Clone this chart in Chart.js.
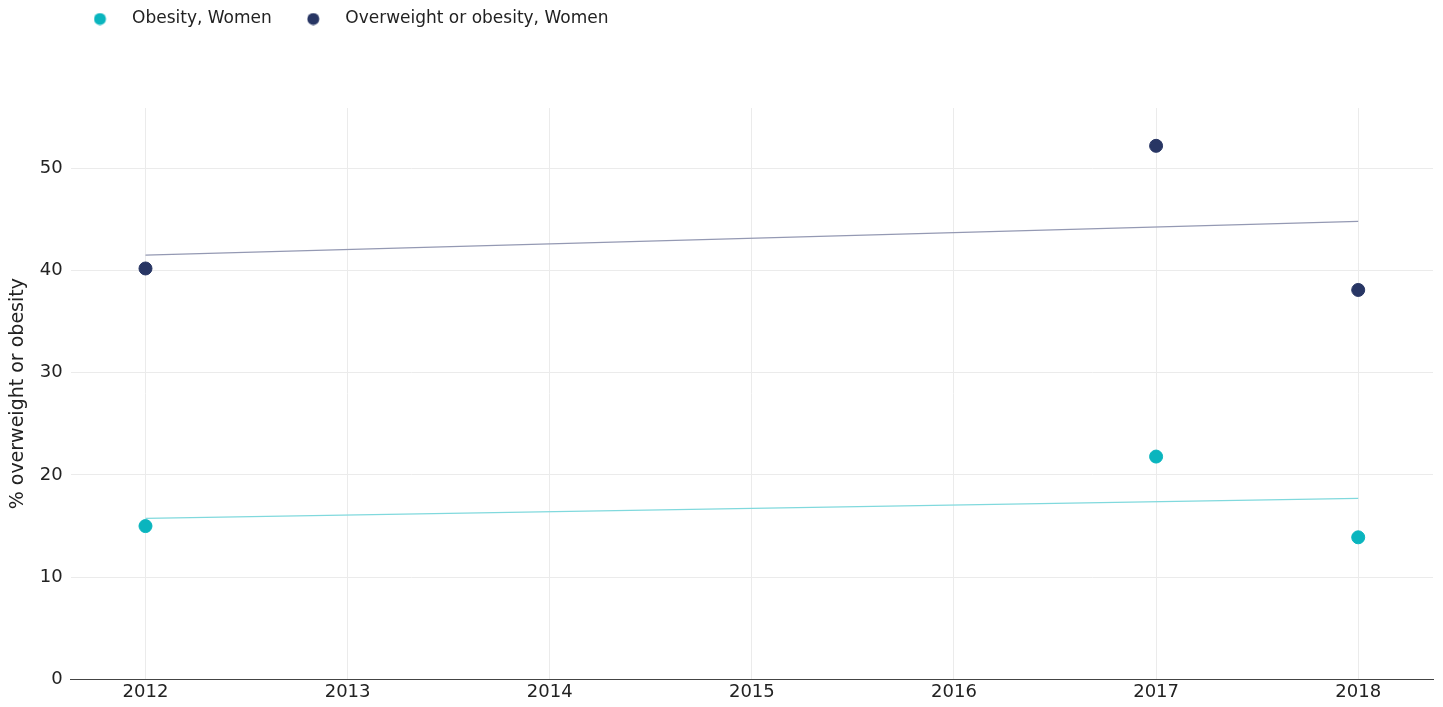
<!DOCTYPE html>
<html>
<head>
<meta charset="utf-8">
<script src="https://cdn.jsdelivr.net/npm/chart.js@4"></script>
<style>
  html, body { margin: 0; padding: 0; background: #fff; }
  #wrap { width: 1443px; height: 707px; }
</style>
</head>
<body>
<div id="wrap"><canvas id="chart"></canvas></div>
<script>
// datos
var years = [2012, 2017, 2018];
var obesity = [15.0, 21.8, 13.9];
var overweight = [40.2, 52.2, 38.1];
var trendYears = [2012, 2018];
var obesityTrend = [15.75, 17.7];
var overweightTrend = [41.5, 44.8];
var yTicks = [0, 10, 20, 30, 40, 50];

var FONT = '"DejaVu Sans", "Noto Sans", sans-serif';

function pts(xs, ys) {
    return xs.map(function (x, i) { return { x: x, y: ys[i] }; });
}

// punto de la leyenda con espacio a la derecha
function makeDot(color) {
    var c = document.createElement('canvas');
    c.width = 30;
    c.height = 13;
    var g = c.getContext('2d');
    g.fillStyle = color;
    g.beginPath();
    g.arc(6.5, 6.5, 6, 0, Math.PI * 2);
    g.fill();
    return c;
}

// mueve la leyenda y agrega espacio debajo
var legendMargin = {
    id: 'legendMargin',
    beforeInit: function (chart) {
        var orig = chart.legend.fit;
        chart.legend.fit = function () {
            orig.bind(chart.legend)();
            this.height += 46;
        };
    },
    afterLayout: function (chart) {
        chart.legend.left += 54.5;
        chart.legend.top -= 24.5;
    }
};

var ctx = document.getElementById('chart');
var myChart = new Chart(ctx, {
    type: 'scatter',
    data: {
        datasets: [{
            label: 'Obesity, Women',
            data: pts(years, obesity),
            backgroundColor: '#0ab5be',
            borderColor: '#0ab5be',
            pointRadius: 6.5,
            pointHoverRadius: 6.5
        }, {
            label: 'Overweight or obesity, Women',
            data: pts(years, overweight),
            backgroundColor: '#283664',
            borderColor: '#283664',
            pointRadius: 6.5,
            pointHoverRadius: 6.5
        }, {
            type: 'line',
            label: 'trend1',
            data: pts(trendYears, obesityTrend),
            borderColor: '#80d9dd',
            borderWidth: 1.3,
            pointRadius: 0,
            fill: false
        }, {
            type: 'line',
            label: 'trend2',
            data: pts(trendYears, overweightTrend),
            borderColor: '#9499b3',
            borderWidth: 1.3,
            pointRadius: 0,
            fill: false
        }]
    },
    options: {
        responsive: true,
        maintainAspectRatio: false,
        animation: false,
        layout: { padding: { left: 4, right: 10, top: 0, bottom: 2 } },
        plugins: {
            tooltip: { enabled: false },
            legend: {
                position: 'top',
                align: 'start',
                labels: {
                    usePointStyle: true,
                    pointStyleWidth: 30,
                    boxHeight: 13,
                    padding: 35,
                    color: '#222',
                    font: { family: FONT, size: 17 },
                    generateLabels: function (chart) {
                        var items = Chart.defaults.plugins.legend.labels.generateLabels(chart);
                        items.forEach(function (it) {
                            it.pointStyle = makeDot(it.fillStyle);
                        });
                        return items;
                    },
                    filter: function (item) { return item.datasetIndex < 2; }
                }
            }
        },
        scales: {
            x: {
                type: 'linear',
                min: 2011.63,
                max: 2018.37,
                ticks: {
                    stepSize: 1,
                    includeBounds: false,
                    color: '#222',
                    padding: 2,
                    font: { family: FONT, size: 18 },
                    callback: function (v) { return String(v); }
                },
                grid: { color: '#ebebeb', drawTicks: false },
                border: { display: true, color: '#444', width: 1 }
            },
            y: {
                min: 0,
                max: 55.9,
                afterBuildTicks: function (axis) {
                    axis.ticks = yTicks.map(function (v) { return { value: v }; });
                },
                ticks: {
                    color: '#222',
                    padding: 8,
                    font: { family: FONT, size: 18 }
                },
                title: {
                    display: true,
                    text: '% overweight or obesity',
                    color: '#222',
                    padding: { top: 3, bottom: 2 },
                    font: { family: FONT, size: 19 }
                },
                grid: { color: '#ebebeb', drawTicks: false },
                border: { display: false }
            }
        }
    },
    plugins: [legendMargin]
});
</script>
</body>
</html>
